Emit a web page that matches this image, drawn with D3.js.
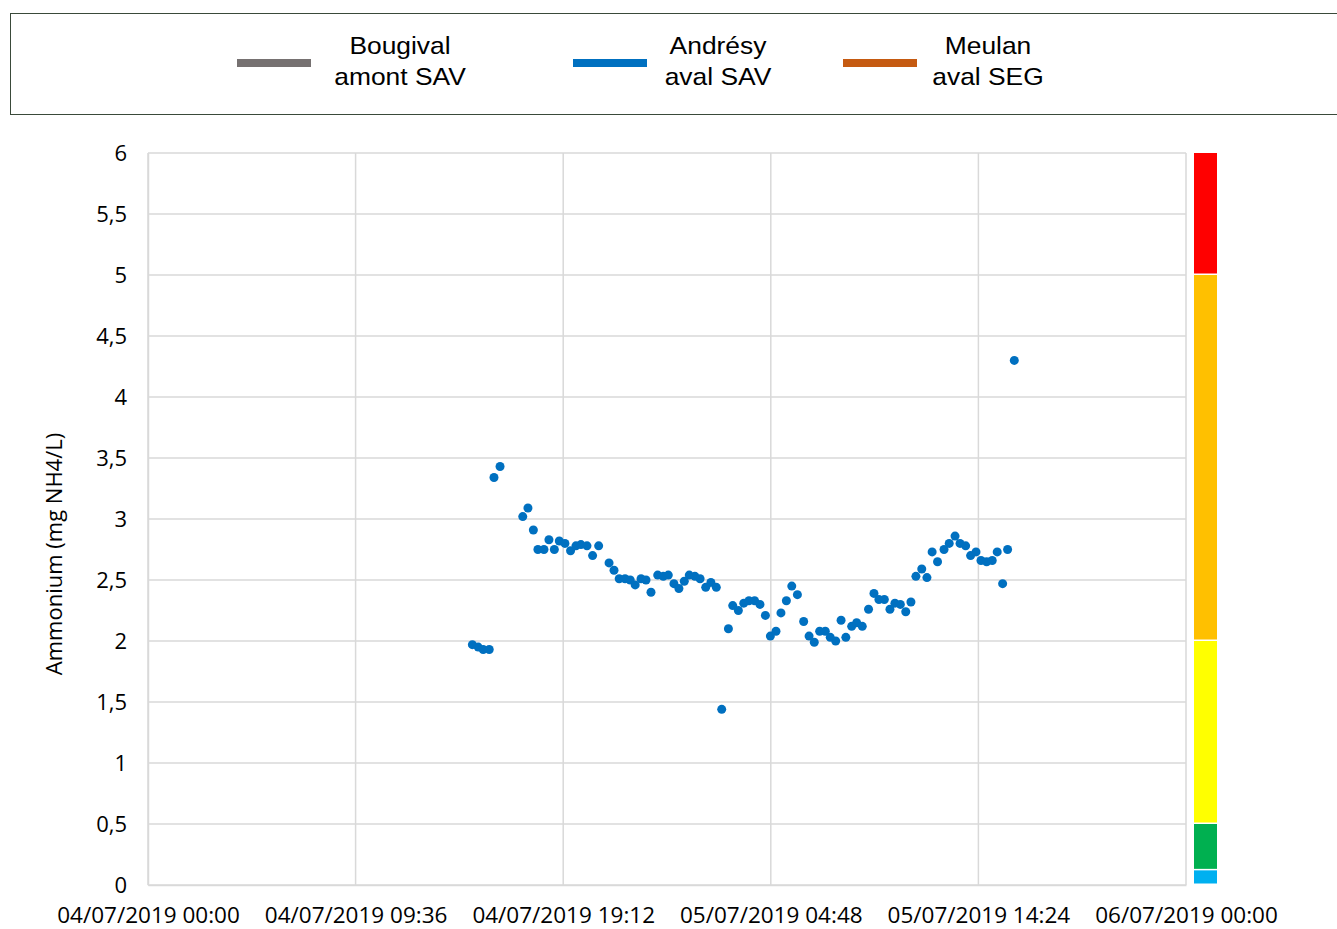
<!DOCTYPE html>
<html>
<head>
<meta charset="utf-8">
<script src="https://cdn.jsdelivr.net/npm/d3@7"></script>
<style>
  html, body { margin: 0; padding: 0; background: #fff; }
  svg { display: block; }
  .tick text { font-family: "Open Sans", sans-serif; font-size: 22px; fill: #000; }
</style>
</head>
<body>
<div class="chart"></div>
<script>
// series names shown in the legend
var seriesNames = ["Bougival\namont SAV", "Andrésy\naval SAV", "Meulan\naval SEG"];
var seriesColors = ["#767171", "#0070c0", "#c55a11"];

// hours after 04/07/2019 00:00 (Andrésy aval SAV)
var andresyHours = [
	15.00, 15.27, 15.50, 15.78, 16.00, 16.28, 17.33, 17.57, 17.82, 18.03,
	18.31, 18.54, 18.79, 19.02, 19.28, 19.54, 19.79, 20.02, 20.30, 20.56,
	20.84, 21.32, 21.55, 21.79, 22.06, 22.30, 22.53, 22.80, 23.03, 23.26,
	23.57, 23.83, 24.06, 24.32, 24.55, 24.80, 25.03, 25.29, 25.53, 25.79,
	26.03, 26.28, 26.53, 26.84, 27.04, 27.30, 27.55, 27.79, 28.05, 28.30,
	28.55, 28.78, 29.04, 29.27, 29.52, 29.77, 30.03, 30.32, 30.57, 30.81,
	31.06, 31.32, 31.55, 31.80, 32.05, 32.27, 32.54, 32.77, 33.03, 33.32,
	33.57, 33.80, 34.05, 34.31, 34.54, 34.79, 35.04, 35.28, 35.51, 35.78,
	36.02, 36.26, 36.51, 36.81, 37.05, 37.32, 37.55, 37.81, 38.04, 38.29,
	38.52, 38.78, 39.04, 39.27, 39.52, 39.75, 40.06
];
// ammonium, mg NH4/L
var andresyValues = [
	1.97, 1.95, 1.93, 1.93, 3.34, 3.43, 3.02, 3.09, 2.91, 2.75,
	2.75, 2.83, 2.75, 2.82, 2.80, 2.74, 2.78, 2.79, 2.78, 2.70,
	2.78, 2.64, 2.58, 2.51, 2.51, 2.50, 2.46, 2.51, 2.50, 2.40,
	2.54, 2.53, 2.54, 2.47, 2.43, 2.49, 2.54, 2.53, 2.51, 2.44,
	2.48, 2.44, 1.44, 2.10, 2.29, 2.25, 2.31, 2.33, 2.33, 2.30,
	2.21, 2.04, 2.08, 2.23, 2.33, 2.45, 2.38, 2.16, 2.04, 1.99,
	2.08, 2.08, 2.03, 2.00, 2.17, 2.03, 2.12, 2.15, 2.12, 2.26,
	2.39, 2.34, 2.34, 2.26, 2.31, 2.30, 2.24, 2.32, 2.53, 2.59,
	2.52, 2.73, 2.65, 2.75, 2.80, 2.86, 2.80, 2.78, 2.70, 2.73,
	2.66, 2.65, 2.66, 2.73, 2.47, 2.75, 4.30
];
// no values for the two other stations
var bougivalValues = [];
var meulanValues = [];

var xTickLabels = ["04/07/2019 00:00", "04/07/2019 09:36", "04/07/2019 19:12",
	"05/07/2019 04:48", "05/07/2019 14:24", "06/07/2019 00:00"];
var yTicks = [0, 0.5, 1, 1.5, 2, 2.5, 3, 3.5, 4, 4.5, 5, 5.5, 6];

// quality classes on the right
var classLimits = [0, 0.12, 0.5, 2, 5, 6];
var classColors = ["#00b0f0", "#00b050", "#ffff00", "#ffc000", "#ff0000"];

var width = 1337, height = 929;
var margin = { top: 153, right: 151, bottom: 44, left: 148 };
var plotW = width - margin.left - margin.right;
var plotH = height - margin.top - margin.bottom;

var parseTick = d3.timeParse("%d/%m/%Y %H:%M");
var fmtTick = d3.timeFormat("%d/%m/%Y %H:%M");
var start = parseTick(xTickLabels[0]);

var points = andresyHours.map(function (h, i) {
	return { t: new Date(start.getTime() + h * 3600000), v: andresyValues[i] };
});

var svg = d3.select('.chart')
	.append('svg')
	.attr('width', width)
	.attr('height', height);

//legend
var legend = svg.append('g');
legend.append('rect')
	.attr('x', 10.5).attr('y', 13.5)
	.attr('width', 1330).attr('height', 101)
	.attr('fill', 'none')
	.attr('stroke', '#3a4a3a')
	.attr('stroke-width', 1);

var legendX = [237, 573, 843];
var legendTextX = [400, 718, 988];
seriesNames.forEach(function (name, i) {
	legend.append('line')
		.attr('x1', legendX[i]).attr('x2', legendX[i] + 74)
		.attr('y1', 63).attr('y2', 63)
		.attr('stroke', seriesColors[i])
		.attr('stroke-width', 8);
	name.split('\n').forEach(function (line, j) {
		legend.append('text')
			.attr('transform', 'translate(' + legendTextX[i] + ',' + (54 + j * 31) + ') scale(1.1,1)')
			.attr('text-anchor', 'middle')
			.style('font-family', '"Liberation Sans", Arial, sans-serif')
			.style('font-size', '24px')
			.text(line);
	});
});

var g = svg.append('g')
	.attr('transform', 'translate(' + margin.left + ',' + margin.top + ')');

var x = d3.scaleTime()
	.domain([start, parseTick(xTickLabels[xTickLabels.length - 1])])
	.range([0, plotW]);

var y = d3.scaleLinear()
	.domain([0, 6])
	.range([plotH, 0]);

//grid
g.append('g')
	.selectAll('line.h')
	.data(yTicks)
	.enter().append('line')
	.attr('x1', 0).attr('x2', plotW)
	.attr('y1', function (d) { return y(d); })
	.attr('y2', function (d) { return y(d); })
	.attr('stroke', '#d9d9d9')
	.attr('stroke-width', 1.5);

g.append('g')
	.selectAll('line.v')
	.data(xTickLabels)
	.enter().append('line')
	.attr('x1', function (d) { return x(parseTick(d)); })
	.attr('x2', function (d) { return x(parseTick(d)); })
	.attr('y1', 0).attr('y2', plotH)
	.attr('stroke', '#d9d9d9')
	.attr('stroke-width', 1.5);

//axes
var xAxis = d3.axisBottom(x)
	.tickValues(xTickLabels.map(parseTick))
	.tickFormat(fmtTick)
	.tickSize(0)
	.tickPadding(22);

var yAxis = d3.axisLeft(y)
	.tickValues(yTicks)
	.tickFormat(function (d) { return String(d).replace('.', ','); })
	.tickSize(0)
	.tickPadding(21);

g.append('g')
	.attr('transform', 'translate(0,' + plotH + ')')
	.call(xAxis)
	.call(function (s) { s.select('.domain').attr('stroke', '#d9d9d9').attr('stroke-width', 1.5); })
	.selectAll('.tick text').style('font-size', '22.5px');

g.append('g')
	.call(yAxis)
	.call(function (s) { s.select('.domain').attr('stroke', '#d9d9d9').attr('stroke-width', 1.5); });

g.selectAll('.tick text').attr('fill', '#000');

svg.append('text')
	.attr('transform', 'translate(62,' + (margin.top + y(3) + 35) + ') rotate(-90)')
	.attr('text-anchor', 'middle')
	.style('font-family', '"Open Sans", sans-serif')
	.style('font-size', '22px')
	.text('Ammonium (mg NH4/L)');

//quality bar
var bandX = plotW + 8;
g.append('g')
	.selectAll('rect')
	.data(classColors)
	.enter().append('rect')
	.attr('x', bandX)
	.attr('width', 23)
	.attr('y', function (d, i) { return y(classLimits[i + 1]); })
	.attr('height', function (d, i) { return y(classLimits[i]) - y(classLimits[i + 1]) - 1.5; })
	.attr('fill', function (d) { return d; });

//points
g.append('g')
	.selectAll('circle')
	.data(points)
	.enter().append('circle')
	.attr('cx', function (d) { return x(d.t); })
	.attr('cy', function (d) { return y(d.v); })
	.attr('r', 4.5)
	.attr('fill', seriesColors[1]);
</script>
</body>
</html>
